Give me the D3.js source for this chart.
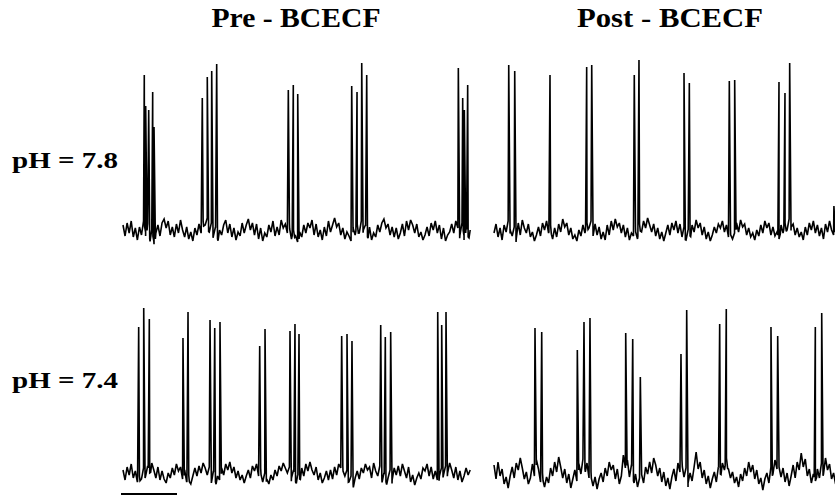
<!DOCTYPE html>
<html>
<head>
<meta charset="utf-8">
<script src="https://cdn.jsdelivr.net/npm/d3@7"></script>
<style>
  body { margin: 0; background: #fff; }
</style>
</head>
<body>
<div id="chart"></div>
<script>
// column + row labels
var columnTitles = ["Pre - BCECF", "Post - BCECF"];
var rowTitles = ["pH = 7.8", "pH = 7.4"];

// record length (s) for left / right column
var recordLengths = [62, 61];

// spike times (s) and peak heights (arbitrary units above baseline)
var spikeTimesPre78 = [3.80, 4.05, 4.59, 5.30, 5.54, 14.16, 15.05, 15.84, 16.73, 29.52, 30.41, 31.20,
    40.84, 41.79, 42.63, 43.52, 59.88, 60.66, 60.95, 61.55];
var spikeHeightsPre78 = [155, 124, 120, 138, 103, 132, 153, 159, 166, 140, 145, 136,
    144, 138, 167, 155, 162, 132, 120, 145];

var spikeTimesPost78 = [2.63, 3.70, 10.0, 16.55, 17.45, 25.05, 25.89, 33.93, 34.88, 42.02, 42.98,
    50.89, 51.96, 52.80, 60.7];
var spikeHeightsPost78 = [165, 159, 155, 163, 165, 155, 170, 157, 147, 149, 150,
    148, 137, 167, 24];

var spikeTimesPre74 = [2.80, 3.70, 4.70, 10.71, 11.61, 15.54, 16.38, 17.32, 24.41, 25.36, 29.82, 30.71,
    31.43, 39.05, 40.0, 40.89, 46.02, 46.84, 47.80, 56.20, 56.91, 57.68];
var spikeHeightsPre74 = [146, 165, 154, 135, 161, 153, 145, 151, 127, 144, 142, 149,
    139, 137, 139, 132, 148, 136, 141, 161, 148, 161];

var spikeTimesPost74 = [7.32, 8.52, 14.88, 16.07, 17.14, 23.52, 24.77, 26.13, 33.39, 34.41, 40.30, 41.48,
    49.46, 50.66, 57.38, 58.52];
var spikeHeightsPost74 = [145, 141, 123, 151, 155, 140, 134, 96, 119, 163, 149, 164,
    146, 137, 146, 160];

// baseline noise, sampled evenly over each record
var noisePre78 = [5,-6,7,-3,9,-7,2,-10,3,-5, 9,-2,6,-9,0,-11,-3,5,-6,7, 11,2,9,-5,3,-7,6,-3,10,0,
    -7,3,-9,-2,-11,2,-5,6,-3,9, 5,12,-2,7,-6,3,-9,0,-5,5, 10,-3,6,-7,2,-10,-2,-6,7,-3,
    5,11,0,7,-5,6,-9,2,-11,-3, -7,5,-2,9,-6,3,-5,10,2,6, -3,7,-9,0,-6,-12,-2,-7,5,-3,
    7,2,10,-5,6,-7,0,-10,3,-6, 9,-2,5,12,3,7,-5,2,-9,-2, -6,-11,2,-5,6,-3,9,0,5,-7,
    3,-10,-3,-7,5,-2,7,11,2,6, -5,3,-7,2,-9,-3,6,-6,9,0, 10,5,-3,6,-7,-2,-10,-5,3,-6,
    7,0,9,-3,5,-9,2,-11,-5,-2, 6,-3,9,2,-5,7,-6,3,-7,0];
var noisePost78 = [-3,6,-7,2,-10,5,-2,9,0,-6, 3,-9,7,-5,10,2,-3,6,-7,-2, -11,-5,3,-6,7,0,9,-3,5,-9,
    2,-7,6,-2,11,3,7,-5,2,-9, -5,-11,0,-6,5,-3,7,2,9,-2, 6,-5,3,-9,-2,-10,5,-5,9,0,
    11,3,7,-3,5,-7,2,-10,-3,-6, 3,-9,6,-2,9,2,12,5,-2,6, -6,2,-9,-2,-11,-3,5,-5,7,0,
    9,-3,6,-7,3,-10,0,-6,5,-2, 10,2,7,-5,3,-9,-2,-11,-5,3, -3,6,2,9,-2,5,-7,0,-9,-3,
    7,-2,10,3,6,-5,2,-7,-3,-10, 0,-6,5,-3,9,2,7,-5,3,-6, -2,-9,5,-3,7,0,11,3,6,-5,
    2,-7,-2,-10,3,-5,7,0,9,-3, 5,-6,2,-9,6,-2,9,0,-5,3];
var noisePre74 = [3,-7,6,-2,9,-5,2,-9,-3,-6, 5,-3,7,0,10,3,-5,6,-7,2, -6,-10,0,-5,5,-2,9,2,6,-6,
    3,-9,-2,-11,-3,5,-3,7,0,10, 5,-2,6,-6,2,-9,-3,-7,5,-2, 9,3,11,0,6,-5,2,-7,-2,-10,
    -3,3,-5,7,2,9,-3,5,-9,0, -6,-11,-2,-7,3,-3,7,2,10,5, 0,6,-5,3,-9,-2,-6,5,-3,9,
    2,11,3,-2,6,-7,0,-10,-5,2, -7,3,-6,6,-2,9,5,7,-3,3, -9,-3,-11,-5,2,-6,5,0,9,3,
    6,-5,10,2,-3,7,-6,0,-9,-5, 3,-7,5,-2,7,-3,9,2,-5,6, -9,-2,-12,-5,0,-6,5,2,9,-3,
    6,-6,2,-7,-3,5,-2,7,0,10, 3,-5,6,-7,2,-9,-3,5,-2,3];
var noisePost74 = [8,-6,11,-3,4,-11,-4,-15,-3,6, -5,10,3,15,5,-6,1,-11,-5,9, -3,13,4,-9,0,-14,-4,-10,5,-3,
    11,1,16,6,-5,4,-10,-1,-15,-6, 3,-8,9,-1,14,4,10,-5,1,-13, -4,-16,-6,0,-9,5,-3,11,3,8,
    -6,4,-11,-3,18,5,13,-4,8,-8, -1,-14,-5,3,-10,6,-1,11,0,15, 8,-3,5,-9,1,-13,-5,-16,-4,4,
    -8,10,1,13,-4,5,-10,0,-8,6, 21,4,11,-5,3,-11,-3,-15,-6,1, -9,6,-1,10,3,15,4,-5,1,-10,
    -4,-14,-1,-8,5,-3,11,1,8,-6, 3,-11,-5,-17,-6,0,-10,6,-1,13, 4,10,-4,5,-9,0,-13,-3,8,-5,
    11,3,20,6,14,-3,4,-10,-1,-8, 4,-5,10,-1,15,3,9,-6,0,-11];

// scale bar length (s)
var scaleBarSeconds = 10;

var width = 835, height = 496;

var svg = d3.select("#chart")
    .append("svg")
    .attr("xmlns", "http://www.w3.org/2000/svg")
    .attr("width", width)
    .attr("height", height);

// horizontal placement of each column, vertical placement of each row
var colLeft = [123, 494];
var pxPerSecond = 5.6;
var rowBase = [230, 473];
var rowTop = [60, 303];

var xScales = colLeft.map(function (left, i) {
    return d3.scaleLinear().domain([0, recordLengths[i]]).range([left, left + recordLengths[i] * pxPerSecond]);
});
var yScales = rowBase.map(function (base, i) {
    return d3.scaleLinear().domain([0, 170]).range([base, rowTop[i]]);
});

var panels = [
    {row: 0, col: 0, noise: noisePre78, times: spikeTimesPre78, heights: spikeHeightsPre78},
    {row: 0, col: 1, noise: noisePost78, times: spikeTimesPost78, heights: spikeHeightsPost78},
    {row: 1, col: 0, noise: noisePre74, times: spikeTimesPre74, heights: spikeHeightsPre74},
    {row: 1, col: 1, noise: noisePost74, times: spikeTimesPost74, heights: spikeHeightsPost74}
];

//merge noise samples and spikes into one trace
function buildTrace(p) {
    var tMax = recordLengths[p.col];
    var step = tMax / (p.noise.length - 1);
    function noiseAt(t) {
        var k = Math.max(0, Math.min(p.noise.length - 2, Math.floor(t / step)));
        var f = t / step - k;
        return p.noise[k] * (1 - f) + p.noise[k + 1] * f;
    }
    var pts = p.noise.map(function (v, i) { return {t: i * step, v: v}; });
    p.times.forEach(function (t, k) {
        pts.push({t: t - 0.2, v: noiseAt(t - 0.2)});
        pts.push({t: t, v: p.heights[k]});
        pts.push({t: t + 0.24, v: noiseAt(t + 0.24) - 4});
    });
    pts.sort(function (a, b) { return a.t - b.t; });
    return pts;
}

panels.forEach(function (p) {
    var x = xScales[p.col], y = yScales[p.row];
    var line = d3.line()
        .x(function (d) { return x(d.t); })
        .y(function (d) { return y(d.v); });
    svg.append("path")
        .datum(buildTrace(p))
        .attr("d", line)
        .attr("fill", "none")
        .attr("stroke", "#000")
        .attr("stroke-width", 1.6)
        .attr("stroke-linejoin", "miter")
        .attr("stroke-miterlimit", 3);
});

//column titles
var colTitleX = [296, 670];
var colTitleLen = [169, 186];
svg.selectAll("text.colTitle")
    .data(columnTitles)
    .enter()
    .append("text")
    .attr("class", "colTitle")
    .attr("x", function (d, i) { return colTitleX[i] - colTitleLen[i] / 2; })
    .attr("y", 27)
    .attr("textLength", function (d, i) { return colTitleLen[i]; })
    .attr("lengthAdjust", "spacingAndGlyphs")
    .attr("font-family", "Liberation Serif, Times New Roman, serif")
    .attr("font-weight", "bold")
    .attr("font-size", "28px")
    .text(function (d) { return d; });

//row titles
svg.selectAll("text.rowTitle")
    .data(rowTitles)
    .enter()
    .append("text")
    .attr("class", "rowTitle")
    .attr("x", 12)
    .attr("y", function (d, i) { return i === 0 ? 168 : 388; })
    .attr("textLength", 106)
    .attr("lengthAdjust", "spacingAndGlyphs")
    .attr("font-family", "Liberation Serif, Times New Roman, serif")
    .attr("font-weight", "bold")
    .attr("font-size", "24px")
    .text(function (d) { return d; });

//scale bar under the lower-left trace
svg.append("line")
    .attr("x1", xScales[0](0) - 2)
    .attr("x2", xScales[0](scaleBarSeconds) - 2)
    .attr("y1", 494)
    .attr("y2", 494)
    .attr("stroke", "#000")
    .attr("stroke-width", 2);
</script>
</body>
</html>
